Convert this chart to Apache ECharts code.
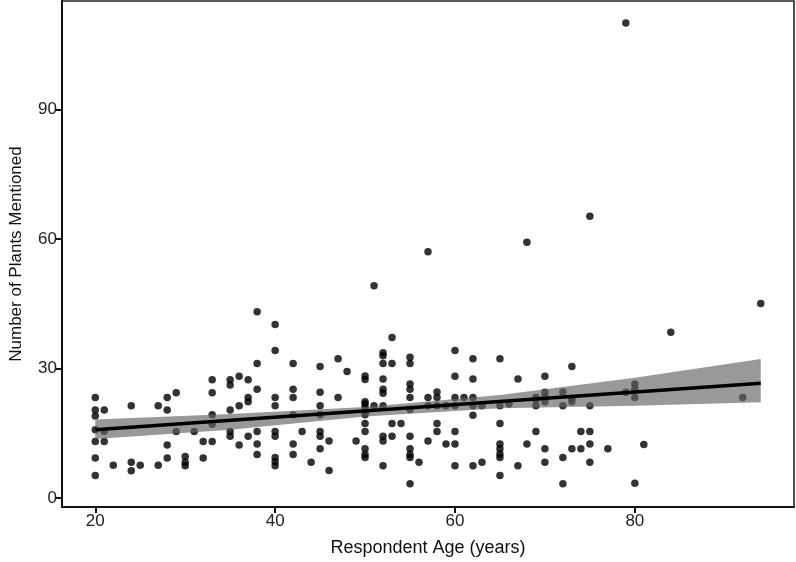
<!DOCTYPE html>
<html>
<head>
<meta charset="utf-8">
<script src="https://cdn.jsdelivr.net/npm/echarts@6/dist/echarts.min.js"></script>
<style>html,body{margin:0;padding:0;background:#fff}#c{width:796px;height:562px}</style>
</head>
<body>
<div id="c"></div>
<script>
// Respondent ages (x) and the plant counts observed at each age (y)
const ageValues = [20,21,22,24,25,27,28,29,30,31,32,33,35,36,37,38,40,42,43,44,45,46,47,48,49,50,51,52,53,54,55,56,57,58,59,60,61,62,63,65,66,67,68,69,70,72,73,74,75,77,79,80,81,84,92,94];
const plantCounts = [
  [23.3,20.4,19.0,15.8,13.1,9.3,5.2],
  [20.4,15.5,13.1],
  [7.6],
  [21.4,8.3,6.3],
  [7.6],
  [21.4,7.6],
  [23.3,20.4,12.3,9.3],
  [24.4,15.4],
  [9.6,8.3,7.5],
  [15.4],
  [13.1,9.3],
  [27.4,24.4,19.3,17.1,13.1],
  [27.4,26.2,20.4,15.4,14.3],
  [28.2,21.4,12.3],
  [27.4,23.3,22.3,14.3],
  [43.2,31.2,25.2,15.4,12.5,10.1],
  [40.2,34.2,23.3,21.4,15.4,14.3,9.4,8.4,7.5],
  [31.2,25.2,23.3,19.3,12.5,10.1],
  [15.4],
  [8.3],
  [30.5,24.5,21.4,19.3,15.4,14.3,11.4],
  [13.2,6.4],
  [32.3,23.3],
  [29.3],
  [13.2],
  [28.3,27.5,22.3,21.8,21.0,19.8,19.3,17.3,15.4,11.4,10.1,9.4],
  [49.2,21.4],
  [33.7,33.0,31.2,27.6,25.2,24.3,21.4,14.3,13.2,7.5],
  [37.2,31.2,17.3,14.3],
  [17.3],
  [32.6,31.2,26.4,25.2,23.3,20.5,14.3,11.4,10.1,9.4,3.3],
  [8.3],
  [57.1,23.3,21.4,13.2],
  [24.6,23.3,21.4,17.3,15.4],
  [21.4,12.5],
  [34.2,28.2,23.3,21.4,15.4,12.5,7.5],
  [23.3],
  [32.3,27.6,23.3,21.4,19.2,7.5],
  [21.4,8.3],
  [32.3,21.4,17.3,12.5,11.4,10.2,9.4,5.2],
  [21.8],
  [27.6,7.5],
  [59.3,12.5],
  [23.3,22.8,21.4,15.4],
  [28.2,24.5,23.4,22.3,11.4,8.3],
  [24.6,21.4,9.4,3.3],
  [30.5,23.1,22.3,11.4],
  [15.4,11.4],
  [65.3,21.4,15.4,12.5,8.3],
  [11.4],
  [110.1,24.5],
  [26.4,25.2,23.3,3.4],
  [12.4],
  [38.4],
  [23.3],
  [45.1]
];

// Fitted regression line endpoints
const fitX = [20, 94];
const fitY = [15.8, 26.6];

// Confidence band read at several ages
const bandX    = [20,   35,   50,   65,   80,   94];
const bandLow  = [13.7, 15.8, 18.9, 20.8, 21.4, 22.2];
const bandHigh = [18.2, 19.5, 21.1, 23.9, 27.9, 32.2];

// Axis ticks
const xTicks = [20, 40, 60, 80];
const yTicks = [0, 30, 60, 90];

const points = ageValues.flatMap((a, i) => plantCounts[i].map(p => [a, p]));
const fitLine = fitX.map((x, i) => [x, fitY[i]]);

const FONT = "'Liberation Sans', Arial, sans-serif";
const chart = echarts.init(document.getElementById('c'), null, {renderer: 'canvas'});

chart.setOption({
  animation: false,
  backgroundColor: '#fff',
  grid: {left: 55, right: 2, top: 1, bottom: 54, show: true, borderColor: '#222', borderWidth: 1.6, containLabel: false},
  xAxis: {
    type: 'value', min: 16.3, max: 97.7,
    name: 'Respondent Age (years)', nameLocation: 'middle', nameGap: 32,
    nameTextStyle: {fontSize: 18, color: '#111', fontFamily: FONT},
    axisLine: {show: true, onZero: false, lineStyle: {color: '#111', width: 2}},
    axisTick: {show: true, length: 6, lineStyle: {color: '#111', width: 2}, customValues: xTicks},
    axisLabel: {customValues: xTicks, fontSize: 17, color: '#222', margin: 6, fontFamily: FONT},
    splitLine: {show: false}
  },
  yAxis: {
    type: 'value', min: -2.08, max: 115.2,
    name: 'Number of Plants Mentioned', nameLocation: 'middle', nameGap: 37,
    nameTextStyle: {fontSize: 17, color: '#111', fontFamily: FONT},
    axisLine: {show: true, onZero: false, lineStyle: {color: '#111', width: 2}},
    axisTick: {show: true, length: 6, lineStyle: {color: '#111', width: 2}, customValues: yTicks},
    axisLabel: {customValues: yTicks, fontSize: 17, color: '#222', margin: 5, fontFamily: FONT},
    splitLine: {show: false}
  },
  series: [
    {
      type: 'scatter', z: 2, data: points, symbol: 'circle', symbolSize: 7.5,
      itemStyle: {color: '#000'}, silent: true
    },
    {
      type: 'custom', z: 3, silent: true,
      data: [[bandX[0], bandLow[0]]],
      renderItem: function (params, api) {
        if (params.dataIndex !== 0) return null;
        const pts = [];
        for (let i = 0; i < bandX.length; i++) pts.push(api.coord([bandX[i], bandHigh[i]]));
        for (let i = bandX.length - 1; i >= 0; i--) pts.push(api.coord([bandX[i], bandLow[i]]));
        return {type: 'polygon', shape: {points: pts}, style: {fill: 'rgba(100,100,100,0.66)'}};
      }
    },
    {
      type: 'line', z: 4, data: fitLine, symbol: 'none', silent: true,
      lineStyle: {color: '#000', width: 3.5}
    }
  ]
});
</script>
</body>
</html>
